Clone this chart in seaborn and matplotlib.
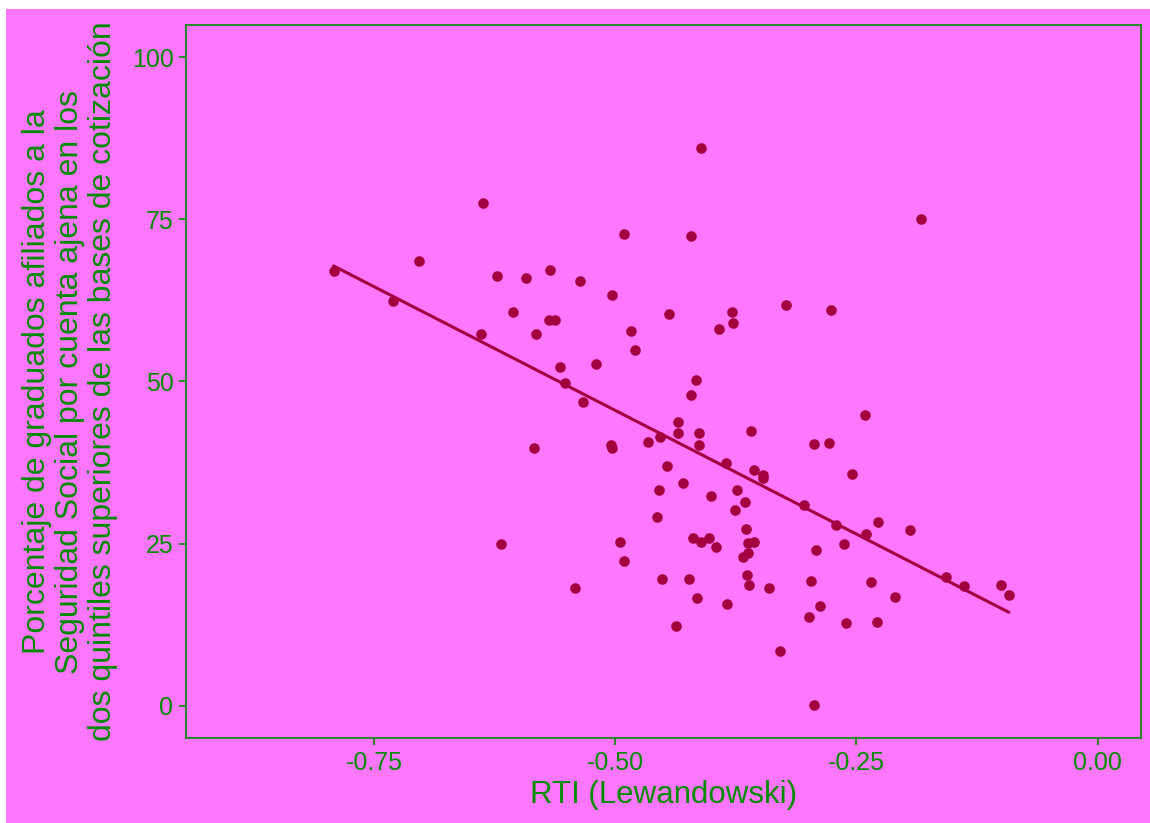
import numpy as np
import pandas as pd
import seaborn as sns
import matplotlib.pyplot as plt
from matplotlib.patches import Rectangle

# ------------------------------------------------------------------
# Data (RTI vs % graduados en quintiles altos)
# ------------------------------------------------------------------
rti = [-0.792, -0.730, -0.703, -0.639, -0.637, -0.623, -0.618, -0.606, -0.593, -0.584,
       -0.582, -0.569, -0.568, -0.562, -0.557, -0.552, -0.542, -0.537, -0.533, -0.520,
       -0.504, -0.503, -0.503, -0.495, -0.491, -0.491, -0.484, -0.480, -0.466, -0.457,
       -0.455, -0.454, -0.452, -0.446, -0.444, -0.437, -0.435, -0.435, -0.430, -0.424,
       -0.422, -0.422, -0.419, -0.416, -0.415, -0.413, -0.413, -0.411, -0.411, -0.403,
       -0.401, -0.396, -0.392, -0.385, -0.384, -0.379, -0.378, -0.376, -0.374, -0.368,
       -0.366, -0.364, -0.363, -0.362, -0.362, -0.361, -0.359, -0.356, -0.356, -0.347,
       -0.347, -0.341, -0.329, -0.323, -0.304, -0.299, -0.297, -0.294, -0.294, -0.292,
       -0.288, -0.278, -0.276, -0.271, -0.263, -0.261, -0.255, -0.241, -0.240, -0.235,
       -0.229, -0.228, -0.210, -0.194, -0.183, -0.157, -0.138, -0.100, -0.092]
pct = [67.1, 62.4, 68.6, 57.3, 77.6, 66.2, 25.0, 60.7, 65.9, 39.8,
       57.3, 59.5, 67.2, 59.5, 52.3, 49.8, 18.2, 65.5, 46.8, 52.7,
       40.2, 39.7, 63.4, 25.3, 72.8, 22.3, 57.8, 54.9, 40.7, 29.1,
       33.3, 41.4, 19.6, 36.9, 60.4, 12.3, 43.8, 42.1, 34.3, 19.5,
       72.4, 47.9, 25.9, 50.3, 16.6, 42.1, 40.2, 86.1, 25.3, 25.8,
       32.4, 24.5, 58.1, 37.5, 15.6, 60.7, 59.0, 30.2, 33.2, 23.0,
       31.4, 27.2, 20.1, 25.1, 23.5, 18.6, 42.4, 25.3, 36.4, 35.5,
       35.1, 18.2, 8.4, 61.8, 30.9, 13.7, 19.2, 40.4, 0.1, 24.0,
       15.3, 40.5, 61.1, 27.8, 25.0, 12.7, 35.7, 44.8, 26.5, 19.1,
       12.9, 28.3, 16.7, 27.1, 75.1, 19.9, 18.5, 18.6, 17.0]

x_ticks = [-0.75, -0.50, -0.25, 0.00]
x_tick_labels = ['-0.75', '-0.50', '-0.25', '0.00']
y_ticks = [0, 25, 50, 75, 100]

df = pd.DataFrame({'rti': rti, 'pct': pct})

# ------------------------------------------------------------------
# Styling
# ------------------------------------------------------------------
PINK = '#FF77FF'
GREEN = '#008B00'
DOT = '#A3003F'

sns.set_style('ticks')
plt.rcParams['font.family'] = ['Liberation Sans', 'DejaVu Sans']

fig = plt.figure(figsize=(11.5, 8.23), dpi=100, facecolor='white')
# pink canvas (reference is a crop with a thin white strip top/left)
fig.patches.append(Rectangle((6 / 1150, 0), 1, 1 - 9 / 823, transform=fig.transFigure,
                             facecolor=PINK, edgecolor='none', zorder=-10))

ax = fig.add_axes([186 / 1150, 1 - 738 / 823, (1141 - 186) / 1150, (738 - 25) / 823])
ax.set_facecolor(PINK)

sns.regplot(data=df, x='rti', y='pct', ax=ax, ci=None, color=DOT,
            scatter_kws={'s': 58, 'alpha': 1, 'linewidths': 0},
            line_kws={'linewidth': 2.2, 'color': DOT})

ax.set_xlim(-0.945, 0.045)
ax.set_ylim(-5, 105)
ax.set_xticks(x_ticks)
ax.set_xticklabels(x_tick_labels)
ax.set_yticks(y_ticks)

for s in ax.spines.values():
    s.set_visible(True)
    s.set_color(GREEN)
    s.set_linewidth(1.2)

ax.tick_params(axis='both', colors=GREEN, labelcolor=GREEN, labelsize=18,
               length=5, width=1.2, direction='out', pad=4)

ax.set_xlabel('RTI (Lewandowski)', fontsize=22.5, color=GREEN, labelpad=4)
ax.set_ylabel('Porcentaje de graduados afiliados a la\n'
              'Seguridad Social por cuenta ajena en los\n'
              'dos quintiles superiores de las bases de cotización',
              fontsize=23, color=GREEN, labelpad=10, linespacing=1.13)

plt.savefig('out.png', dpi=100, facecolor=fig.get_facecolor())
plt.close()
